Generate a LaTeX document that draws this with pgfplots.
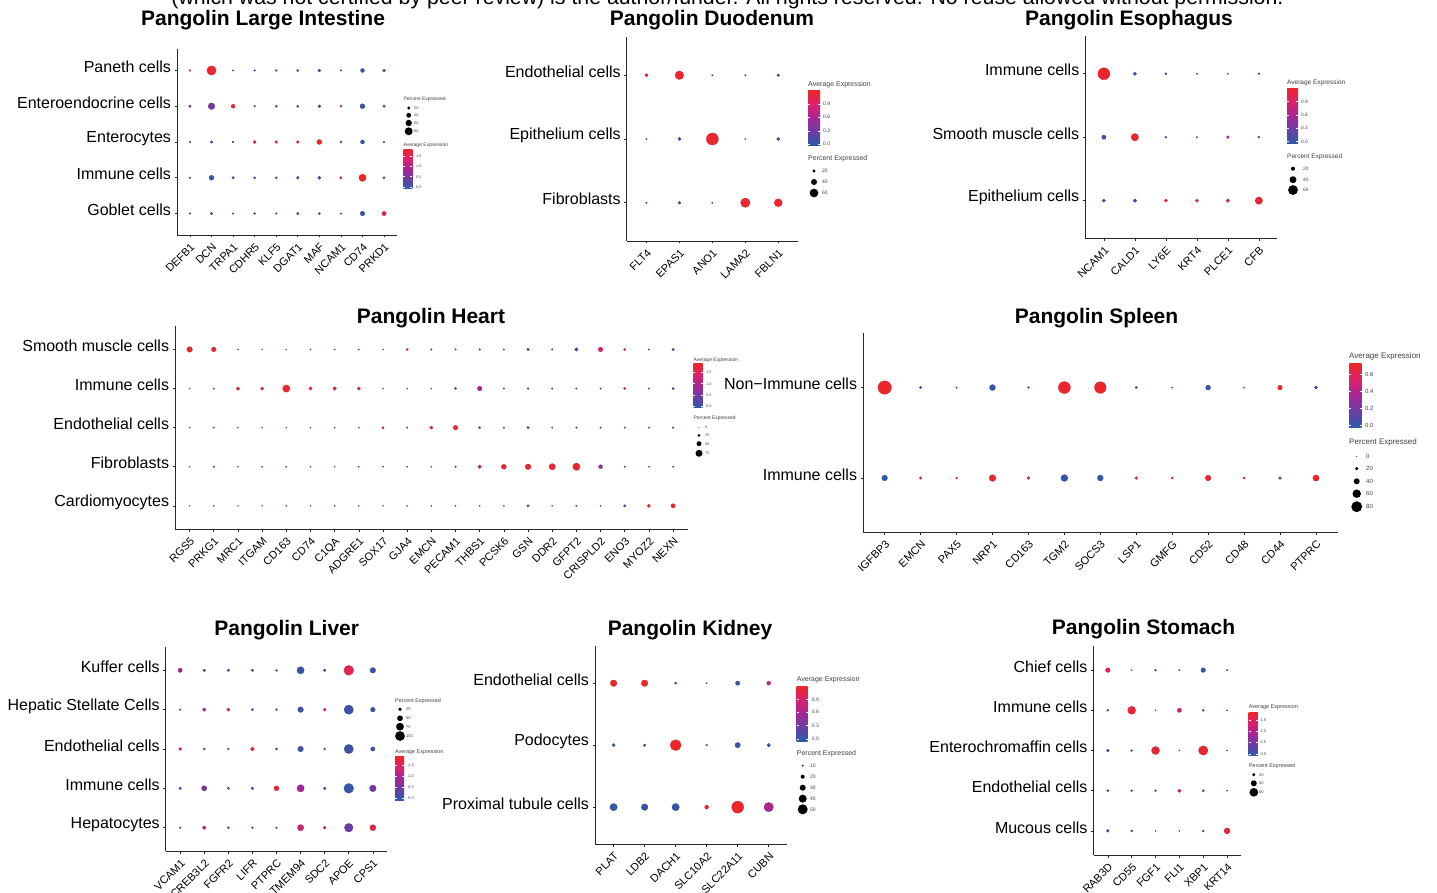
\documentclass[border=0pt]{standalone}
\usepackage{pgfplots}
\pgfplotsset{compat=1.18}
\usepackage{fontspec}
\setmainfont{Liberation Sans}
\definecolor{cA}{RGB}{44,90,170}
\definecolor{cB}{RGB}{105,62,165}
\definecolor{cC}{RGB}{165,38,150}
\definecolor{cD}{RGB}{218,34,110}
\definecolor{cE}{RGB}{238,38,42}
\pgfdeclareverticalshading{sbar}{100bp}{color(0bp)=(cA); color(25bp)=(cA); color(37.5bp)=(cB); color(50bp)=(cC); color(62.5bp)=(cD); color(75bp)=(cE); color(100bp)=(cE)}
\pgfplotsset{
  colormap={seurat}{rgb255=(44,90,170) rgb255=(105,62,165) rgb255=(165,38,150) rgb255=(218,34,110) rgb255=(238,38,42)},
  dp/.style={
    scale only axis, anchor=south west, clip=false,
    axis x line*=bottom, axis y line*=left,
    axis line style={line width=0.8pt, black!85},
    tick align=outside, major tick length=2.5pt,
    tick style={line width=0.6pt, black!85},
    yticklabel style={font=\fontsize{16}{18}\selectfont, text=black, yshift=3.5pt},
    xticklabel style={font=\fontsize{11}{13}\selectfont, rotate=45, anchor=north east, text=black},
  },
  dp dots/.style 2 args={only marks, scatter, mark=*, point meta=\thisrow{avg},
    visualization depends on={\thisrow{pct} \as \perc},
    scatter/@pre marker code/.append style={/tikz/mark size=#1+#2*\perc},
    mark options={line width=0.25pt}},
}
\newcommand\cbar[4]{\shade[shading=sbar] (#1,#2) rectangle (#3,#4);}
\newcommand\cbt[5]{\draw[white,line width=0.5pt] (#1,#3)--++(2,0) (#2,#3)--++(-2,0); \node[anchor=west,inner sep=0pt] at (#5,#3) {#4};}
\newcommand\ldot[5]{\fill[black] (#1,#2) circle (#3pt); \node[anchor=west,inner sep=0pt] at (#4,#2) {#5};}
\begin{document}
\begin{tikzpicture}[x=1pt,y=1pt]
\useasboundingbox (0,0) rectangle (1437,892);
\clip (0,0) rectangle (1437,892);
\node[anchor=base, font=\fontsize{21.3}{25}\selectfont] at (727.5,887) {(which was not certified by peer review) is the author/funder. All rights reserved. No reuse allowed without permission.};
\begin{scope}[font=\fontsize{21}{25}\selectfont\bfseries]
\node[anchor=base] at (263,866) {Pangolin Large Intestine};
\node[anchor=base] at (712,866) {Pangolin Duodenum};
\node[anchor=base] at (1129,866) {Pangolin Esophagus};
\node[anchor=base] at (431,568) {Pangolin Heart};
\node[anchor=base] at (1096.5,568) {Pangolin Spleen};
\node[anchor=base] at (286.7,256.3) {Pangolin Liver};
\node[anchor=base] at (690,256.3) {Pangolin Kidney};
\node[anchor=base] at (1143.5,257) {Pangolin Stomach};
\end{scope}

% ---------------- Large Intestine
\begin{axis}[dp, at={(177pt,657pt)}, width=220pt, height=186pt,
  xmin=0.4, xmax=10.6, ymin=0.4, ymax=5.6, colormap name=seurat,
  xtick={1,...,10}, xticklabels={DEFB1,DCN,TRPA1,CDHR5,KLF5,DGAT1,MAF,NCAM1,CD74,PRKD1},
  ytick={1,...,5}, yticklabels={Goblet cells,Immune cells,Enterocytes,Enteroendocrine cells,Paneth cells},
  point meta min=-0.08, point meta max=1.82]
\addplot[dp dots={0.85}{0.039}] table {
x y pct avg
1 5 4 1.75
2 5 98 1.8
3 5 0 0
4 5 2 0
5 5 4 0
6 5 8 0
7 5 17 0
8 5 2 0
9 5 30 0.02
10 5 17 0.3
1 4 12 0.6
2 4 64 0.5
3 4 30 1.75
4 4 2 0
5 4 8 0
6 4 8 0
7 4 17 0
8 4 8 1.2
9 4 42 0.05
10 4 12 0.1
1 3 2 0
2 3 12 0
3 3 2 0
4 3 17 1.7
5 3 17 1.7
6 3 17 1.7
7 3 42 1.8
8 3 8 0
9 3 30 0.02
10 3 2 0
1 2 4 0
2 2 42 0.05
3 2 12 0
4 2 8 0
5 2 8 0
6 2 17 0
7 2 21 0
8 2 12 1.3
9 2 72 1.82
10 2 8 0
1 1 2 0
2 1 12 0
3 1 2 0
4 1 4 0
5 1 2 0
6 1 12 0
7 1 8 0
8 1 2 0
9 1 38 0.02
10 1 34 1.7
};
\end{axis}

% ---------------- Duodenum
\begin{axis}[dp, at={(626.7pt,651pt)}, width=171.3pt, height=204pt,
  xmin=0.4, xmax=5.6, ymin=0.4, ymax=3.6, colormap name=seurat,
  xtick={1,...,5}, xticklabels={FLT4,EPAS1,ANO1,LAMA2,FBLN1},
  ytick={1,...,3}, yticklabels={Fibroblasts,Epithelium cells,Endothelial cells},
  point meta min=-0.05, point meta max=1.19]
\addplot[dp dots={0.33}{0.067}] table {
x y pct avg
1 3 20 1.15
2 3 60 1.17
3 3 7 0
4 3 7 0
5 3 17 0
1 2 7 0
2 2 20 0
3 2 85 1.17
4 2 5 0
5 2 20 0
1 1 7 0
2 1 17 0
3 1 7 0
4 1 65 1.17
5 1 55 1.17
};
\end{axis}

% ---------------- Esophagus
\begin{axis}[dp, at={(1085.3pt,653.3pt)}, width=192.1pt, height=203pt,
  xmin=0.4, xmax=6.6, ymin=0.4, ymax=3.6, colormap name=seurat,
  xtick={1,...,6}, xticklabels={NCAM1,CALD1,LY6E,KRT4,PLCE1,CFB},
  ytick={1,...,3}, yticklabels={Epithelium cells,Smooth muscle cells,Immune cells},
  point meta min=-0.05, point meta max=1.2]
\addplot[dp dots={0.6}{0.072}] table {
x y pct avg
1 3 75 1.18
2 3 17 0
3 3 8 0
4 3 3 0
5 3 1 0
6 3 6 0
1 2 22 0
2 2 43 1.18
3 2 6 0
4 2 3 0
5 2 12 0.45
6 2 6 0
1 1 15 0
2 1 17 0
3 1 15 1.15
4 1 15 1.1
5 1 17 0.9
6 1 43 1.18
};
\end{axis}

% ---------------- Heart
\begin{axis}[dp, at={(175.1pt,362.7pt)}, width=512.5pt, height=203.3pt,
  xmin=0.4, xmax=21.6, ymin=0.4, ymax=5.6, colormap name=seurat,
  xtick={1,...,21}, xticklabels={RGS5,PRKG1,MRC1,ITGAM,CD163,CD74,C1QA,ADGRE1,SOX17,GJA4,EMCN,PECAM1,THBS1,PCSK6,GSN,DDR2,GFPT2,CRISPLD2,ENO3,MYOZ2,NEXN},
  ytick={1,...,5}, yticklabels={Cardiomyocytes,Fibroblasts,Endothelial cells,Immune cells,Smooth muscle cells},
  point meta min=-0.08, point meta max=1.87]
\addplot[dp dots={0.5}{0.04}] table {
x y pct avg
1 5 58 1.85
2 5 46 1.8
3 5 4 0
4 5 2 0
5 5 4 0
6 5 4 0
7 5 4 0
8 5 4 0
9 5 2 0
10 5 17 1.7
11 5 8 0
12 5 8 0
13 5 12 0
14 5 8 0
15 5 21 0
16 5 8 0
17 5 33 0.1
18 5 46 1.5
19 5 17 1.3
20 5 8 0
21 5 21 0
1 4 4 0
2 4 8 0
3 4 33 1.8
4 4 29 1.8
5 4 79 1.85
6 4 29 1.8
7 4 33 1.8
8 4 29 1.8
9 4 2 0
10 4 4 0
11 4 4 0
12 4 17 0
13 4 46 1.0
14 4 8 0
15 4 12 0
16 4 8 0
17 4 8 0
18 4 8 0
19 4 17 1.3
20 4 8 0
21 4 17 0
1 3 4 0
2 3 8 0
3 3 4 0
4 3 4 0
5 3 4 0
6 3 4 0
7 3 4 0
8 3 4 0
9 3 17 1.75
10 3 8 0
11 3 29 1.8
12 3 46 1.85
13 3 17 0
14 3 8 0
15 3 21 0
16 3 8 0
17 3 8 0
18 3 8 0
19 3 8 0
20 3 8 0
21 3 12 0
1 2 2 0
2 2 8 0
3 2 2 0
4 2 4 0
5 2 4 0
6 2 4 0
7 2 2 0
8 2 4 0
9 2 2 0
10 2 4 0
11 2 4 0
12 2 8 0
13 2 33 1.1
14 2 50 1.8
15 2 58 1.8
16 2 67 1.8
17 2 79 1.85
18 2 38 0.75
19 2 8 0
20 2 4 0
21 2 8 0
1 1 2 0
2 1 4 0
3 1 2 0
4 1 2 0
5 1 4 0
6 1 2 0
7 1 4 0
8 1 2 0
9 1 2 0
10 1 4 0
11 1 4 0
12 1 4 0
13 1 4 0
14 1 4 0
15 1 21 0
16 1 4 0
17 1 8 0
18 1 4 0
19 1 21 0
20 1 29 1.8
21 1 42 1.85
};
\end{axis}

% ---------------- Spleen
\begin{axis}[dp, at={(863.1pt,359.7pt)}, width=474.4pt, height=199pt,
  xmin=0.4, xmax=13.6, ymin=0.4, ymax=2.6, colormap name=seurat,
  xtick={1,...,13}, xticklabels={IGFBP3,EMCN,PAX5,NRP1,CD163,TGM2,SOCS3,LSP1,GMFG,CD52,CD48,CD44,PTPRC},
  ytick={1,2}, yticklabels={Immune cells,Non−Immune cells},
  point meta min=-0.02, point meta max=0.72]
\addplot[dp dots={0.5}{0.062}] table {
x y pct avg
1 2 100 0.71
2 2 13 0
3 2 5 0
4 2 40 0
5 2 8 0
6 2 89 0.71
7 2 86 0.71
8 2 11 0
9 2 5 0
10 2 32 0
11 2 5 0
12 2 30 0.7
13 2 19 0
1 1 38 0
2 1 13 0.7
3 1 8 0.7
4 1 46 0.7
5 1 16 0.7
6 1 48 0
7 1 40 0
8 1 16 0.7
9 1 11 0.7
10 1 38 0.7
11 1 11 0.7
12 1 16 0
13 1 43 0.7
};
\end{axis}

% ---------------- Liver
\begin{axis}[dp, at={(165.7pt,40.7pt)}, width=221.6pt, height=204.6pt,
  xmin=0.4, xmax=9.6, ymin=0.4, ymax=5.6, colormap name=seurat,
  xtick={1,...,9}, xticklabels={VCAM1,CREB3L2,FGFR2,LIFR,PTPRC,TMEM94,SDC2,APOE,CPS1},
  ytick={1,...,5}, yticklabels={Hepatocytes,Immune cells,Endothelial cells,Hepatic Stellate Cells,Kuffer cells},
  point meta min=-0.08, point meta max=1.87]
\addplot[dp dots={0.9}{0.04}] table {
x y pct avg
1 5 32 0.75
2 5 11 0
3 5 11 0
4 5 11 0
5 5 3 0
6 5 69 0.02
7 5 11 0
8 5 100 1.6
9 5 48 0.05
1 4 1 0
2 4 23 0.9
3 4 19 1.7
4 4 7 0
5 4 3 0
6 4 48 0.05
7 4 15 1.3
8 4 94 0.05
9 4 36 0.05
1 3 15 1.3
2 3 7 0
3 3 1 0
4 3 27 1.7
5 3 7 0
6 3 48 0.05
7 3 3 0
8 3 94 0.05
9 3 32 0.05
1 2 11 0
2 2 44 0.55
3 2 7 0
4 2 15 0
5 2 40 1.75
6 2 69 0.9
7 2 15 0
8 2 100 0
9 2 61 0.5
1 1 1 0
2 1 23 1.0
3 1 7 0
4 1 3 0
5 1 1 0
6 1 57 1.25
7 1 15 1.05
8 1 86 0.4
9 1 53 1.7
};
\end{axis}

% ---------------- Kidney
\begin{axis}[dp, at={(595pt,47.7pt)}, width=192.3pt, height=198.3pt,
  xmin=0.4, xmax=6.6, ymin=0.4, ymax=3.6, colormap name=seurat,
  xtick={1,...,6}, xticklabels={PLAT,LDB2,DACH1,SLC10A2,SLC22A11,CUBN},
  ytick={1,...,3}, yticklabels={Proximal tubule cells,Podocytes,Endothelial cells},
  point meta min=-0.045, point meta max=1.2]
\addplot[dp dots={0}{0.1}] table {
x y pct avg
1 3 33 1.2
2 3 33 1.2
3 3 12 0
4 3 7 0
5 3 22 0
6 3 20 0.8
1 2 17 0
2 2 13 0
3 2 55 1.2
4 2 10 0
5 2 27 0
6 2 18 0
1 1 37 0
2 1 33 0
3 1 37 0
4 1 20 1.2
5 1 60 1.2
6 1 47 0.65
};
\end{axis}

% ---------------- Stomach
\begin{axis}[dp, at={(1093.5pt,37pt)}, width=147.9pt, height=209pt,
  xmin=0.4, xmax=6.6, ymin=0.4, ymax=5.6, colormap name=seurat,
  xtick={1,...,6}, xticklabels={RAB3D,CD55,FGF1,FLI1,XBP1,KRT14},
  ytick={1,...,5}, yticklabels={Mucous cells,Endothelial cells,Enterochromaffin cells,Immune cells,Chief cells},
  point meta min=-0.08, point meta max=1.87]
\addplot[dp dots={0.33}{0.067}] table {
x y pct avg
1 5 30 1.6
2 5 5 0
3 5 10 0
4 5 7 0
5 5 30 0
6 5 7 0
1 4 12 0
2 4 55 1.8
3 4 5 0
4 4 27 1.35
5 4 12 0
6 4 5 0
1 3 17 0.5
2 3 10 0
3 3 55 1.8
4 3 5 0
5 3 65 1.8
6 3 5 0
1 2 12 0
2 2 10 0
3 2 10 0
4 2 22 1.25
5 2 12 0
6 2 5 0
1 1 17 0
2 1 12 0
3 1 5 0
4 1 5 0
5 1 12 0
6 1 40 1.8
};
\end{axis}

% ================= legends
\begin{scope}[text=black!75]
% Large intestine
\node[anchor=west,inner sep=0pt,font=\fontsize{5}{6}\selectfont] at (403.3,793) {Percent Expressed};
\node[anchor=west,inner sep=0pt,font=\fontsize{5}{6}\selectfont] at (403.3,747) {Average Expression};
\begin{scope}[font=\fontsize{3.8}{4.5}\selectfont]
\ldot{408.7}{784}{1.63}{414}{20}
\ldot{408.7}{776.7}{2.41}{414}{40}
\ldot{408.7}{769}{3.19}{414}{60}
\ldot{408.7}{760.7}{3.97}{414}{80}
\cbar{403.3}{703}{412.3}{742.7}
\cbt{403.3}{412.3}{736}{1.5}{416}
\cbt{403.3}{412.3}{726}{1.0}{416}
\cbt{403.3}{412.3}{715.3}{0.5}{416}
\cbt{403.3}{412.3}{704.7}{0.0}{416}
\end{scope}
% Duodenum
\node[anchor=west,inner sep=0pt,font=\fontsize{7}{8}\selectfont] at (808,807) {Average Expression};
\node[anchor=west,inner sep=0pt,font=\fontsize{7}{8}\selectfont] at (808,733.3) {Percent Expressed};
\begin{scope}[font=\fontsize{5}{6}\selectfont]
\cbar{808}{746}{820}{801}
\cbt{808}{820}{788}{0.9}{823}
\cbt{808}{820}{775}{0.6}{823}
\cbt{808}{820}{761}{0.3}{823}
\cbt{808}{820}{748}{0.0}{823}
\ldot{814}{721}{1.67}{822}{20}
\ldot{814}{710}{3.01}{822}{40}
\ldot{814}{699}{4.35}{822}{60}
\end{scope}
% Esophagus
\node[anchor=west,inner sep=0pt,font=\fontsize{6.5}{8}\selectfont] at (1287,809.3) {Average Expression};
\node[anchor=west,inner sep=0pt,font=\fontsize{6.5}{8}\selectfont] at (1287,735.3) {Percent Expressed};
\begin{scope}[font=\fontsize{4.8}{6}\selectfont]
\cbar{1287}{748}{1298}{803.7}
\cbt{1287}{1298}{790.3}{0.9}{1301}
\cbt{1287}{1298}{777}{0.6}{1301}
\cbt{1287}{1298}{764}{0.3}{1301}
\cbt{1287}{1298}{750.3}{0.0}{1301}
\ldot{1293}{723.3}{2.04}{1303}{20}
\ldot{1293}{712.3}{3.48}{1303}{40}
\ldot{1293}{702}{4.92}{1303}{60}
\end{scope}
% Heart
\node[anchor=west,inner sep=0pt,font=\fontsize{5}{6}\selectfont] at (693.3,532) {Average Expression};
\node[anchor=west,inner sep=0pt,font=\fontsize{5}{6}\selectfont] at (693.3,473.3) {Percent Expressed};
\begin{scope}[font=\fontsize{3.8}{4.5}\selectfont]
\cbar{693.3}{484.3}{702.7}{528}
\cbt{693.3}{702.7}{519.7}{1.5}{706}
\cbt{693.3}{702.7}{508.3}{1.0}{706}
\cbt{693.3}{702.7}{497}{0.5}{706}
\cbt{693.3}{702.7}{486}{0.0}{706}
\ldot{699}{464.7}{0.5}{705}{0}
\ldot{699}{456.7}{1.5}{705}{25}
\ldot{699}{448.3}{2.5}{705}{50}
\ldot{699}{438.7}{3.5}{705}{75}
\end{scope}
% Spleen
\node[anchor=west,inner sep=0pt,font=\fontsize{8}{9}\selectfont] at (1349,536) {Average Expression};
\node[anchor=west,inner sep=0pt,font=\fontsize{8}{9}\selectfont] at (1349,449.7) {Percent Expressed};
\begin{scope}[font=\fontsize{6}{7}\selectfont]
\cbar{1349}{464.7}{1361.7}{528}
\cbt{1349}{1361.7}{517.7}{0.6}{1365}
\cbt{1349}{1361.7}{500.3}{0.4}{1365}
\cbt{1349}{1361.7}{483.3}{0.2}{1365}
\cbt{1349}{1361.7}{466.3}{0.0}{1365}
\ldot{1356.7}{435.3}{0.5}{1366}{0}
\ldot{1356.7}{423.3}{1.74}{1366}{20}
\ldot{1356.7}{410.7}{2.98}{1366}{40}
\ldot{1356.7}{398.3}{4.22}{1366}{60}
\ldot{1356.7}{385.3}{5.46}{1366}{80}
\end{scope}
% Liver
\node[anchor=west,inner sep=0pt,font=\fontsize{5.4}{6.5}\selectfont] at (395,191.3) {Percent Expressed};
\node[anchor=west,inner sep=0pt,font=\fontsize{5.4}{6.5}\selectfont] at (395,139.7) {Average Expression};
\begin{scope}[font=\fontsize{4}{5}\selectfont]
\ldot{400}{182.7}{1.9}{406}{25}
\ldot{400}{173.7}{2.9}{406}{50}
\ldot{400}{165.3}{3.9}{406}{75}
\ldot{400}{156}{4.9}{406}{100}
\cbar{395}{92}{404}{135.3}
\cbt{395}{404}{127}{1.5}{408}
\cbt{395}{404}{116}{1.0}{408}
\cbt{395}{404}{104.7}{0.5}{408}
\cbt{395}{404}{93.7}{0.0}{408}
\end{scope}
% Kidney
\node[anchor=west,inner sep=0pt,font=\fontsize{7}{8}\selectfont] at (796.7,212) {Average Expression};
\node[anchor=west,inner sep=0pt,font=\fontsize{7}{8}\selectfont] at (796.7,138) {Percent Expressed};
\begin{scope}[font=\fontsize{5}{6}\selectfont]
\cbar{796.7}{151}{807.7}{206}
\cbt{796.7}{807.7}{192.7}{0.9}{811.7}
\cbt{796.7}{807.7}{180}{0.6}{811.7}
\cbt{796.7}{807.7}{166.3}{0.3}{811.7}
\cbt{796.7}{807.7}{153}{0.0}{811.7}
\ldot{802.7}{126.3}{1}{810}{10}
\ldot{802.7}{115.3}{2}{810}{20}
\ldot{802.7}{104.3}{3}{810}{30}
\ldot{802.7}{93.3}{4}{810}{40}
\ldot{802.7}{82.7}{5}{810}{50}
\end{scope}
% Stomach
\node[anchor=west,inner sep=0pt,font=\fontsize{5.5}{6.5}\selectfont] at (1248.6,185) {Average Expression};
\node[anchor=west,inner sep=0pt,font=\fontsize{5.5}{6.5}\selectfont] at (1248.6,126) {Percent Expressed};
\begin{scope}[font=\fontsize{4}{5}\selectfont]
\cbar{1248.6}{136.3}{1257.9}{180}
\cbt{1248.6}{1257.9}{171.7}{1.5}{1260.3}
\cbt{1248.6}{1257.9}{160.7}{1.0}{1260.3}
\cbt{1248.6}{1257.9}{149.7}{0.5}{1260.3}
\cbt{1248.6}{1257.9}{138}{0.0}{1260.3}
\ldot{1253.8}{117.3}{1.67}{1259}{20}
\ldot{1253.8}{108.7}{3.01}{1259}{40}
\ldot{1253.8}{99.7}{4.35}{1259}{60}
\end{scope}
\end{scope}
\end{tikzpicture}
\end{document}
